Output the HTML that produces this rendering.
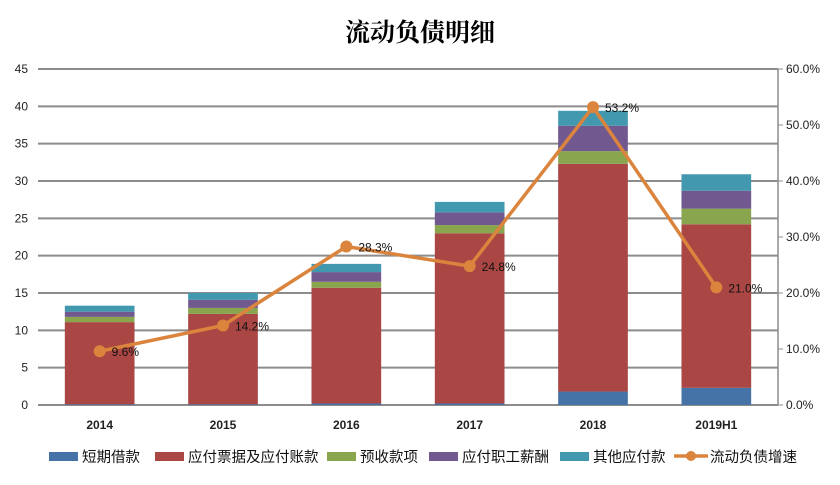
<!DOCTYPE html>
<html><head><meta charset="utf-8"><style>
body{margin:0;background:#fff}
svg text{font-family:"Liberation Sans","Noto Sans CJK SC",sans-serif}
</style></head><body>
<svg id="c" width="840" height="480" xmlns="http://www.w3.org/2000/svg">
<text x="420" y="41" text-anchor="middle" font-size="25" font-weight="bold" style="font-family:'Noto Serif CJK SC','Liberation Serif',serif">流动负债明细</text>
<g id="grid"></g><g id="bars"></g><g id="line"></g><g id="axes"></g><g id="legend"></g>
</svg>
<script>
const categories=["2014","2015","2016","2017","2018","2019H1"];
const shortLoans=[0.1,0.1,0.2,0.2,1.8,2.3];
const payables=[11.0,12.1,15.5,22.8,30.5,21.9];
const advances=[0.7,0.8,0.8,1.1,1.7,2.1];
const salaries=[0.7,1.1,1.3,1.7,3.4,2.4];
const otherPayables=[0.8,0.9,1.1,1.4,2.0,2.2];
const growth=[9.6,14.2,28.3,24.8,53.2,21.0];
const leftTicks=[0,5,10,15,20,25,30,35,40,45];
const rightTicks=["0.0%","10.0%","20.0%","30.0%","40.0%","50.0%","60.0%"];
const seriesNames=["短期借款","应付票据及应付账款","预收款项","应付职工薪酬","其他应付款","流动负债增速"];
const colors=["#4572A7","#AA4643","#89A54E","#71588F","#4198AF","#DB843D"];
const NS="http://www.w3.org/2000/svg";
const X0=38,X1=778,Y0=405,Y1=69;
const yL=v=>Y0-v/45*(Y0-Y1);
const yR=v=>Y0-v/60*(Y0-Y1);
const band=(X1-X0)/categories.length;
const xc=i=>X0+band*(i+0.5);
function mk(p,t,a){const e=document.createElementNS(NS,t);for(const k in a)e.setAttribute(k,a[k]);p.appendChild(e);return e;}
const G=document.getElementById('grid'),B=document.getElementById('bars'),L=document.getElementById('line'),A=document.getElementById('axes'),LG=document.getElementById('legend');
leftTicks.forEach(v=>{const l=mk(G,'line',{x1:X0,x2:X1,y1:yL(v),y2:yL(v),stroke:'#8c8c8c','stroke-width':2});


const t=mk(A,'text',{x:28,y:yL(v)+4,'text-anchor':'end','font-size':12,fill:'#222'});t.textContent=v;

});
rightTicks.forEach((s,i)=>{const t=mk(A,'text',{x:786,y:yR(i*10)+4,'font-size':12,fill:'#222'});t.textContent=s;


mk(A,'line',{x1:X1,x2:X1+5,y1:yR(i*10),y2:yR(i*10),stroke:'#8c8c8c'});});
const ra=mk(A,'line',{x1:X1,x2:X1,y1:Y1,y2:Y0,stroke:'#8c8c8c','stroke-width':1.5});


const series=[shortLoans,payables,advances,salaries,otherPayables];
categories.forEach((c,i)=>{let acc=0;const w=band*0.565;
series.forEach((s,k)=>{const y0=yL(acc);acc+=s[i];const y1=yL(acc);
const r=mk(B,'rect',{x:xc(i)-w/2,y:y1,width:w,height:y0-y1,fill:colors[k]});

});
const t=mk(A,'text',{x:xc(i),y:429,'text-anchor':'middle','font-size':12,'font-weight':'bold',fill:'#222'});t.textContent=c;

});
const pl=mk(L,'polyline',{points:growth.map((v,i)=>xc(i)+','+yR(v)).join(' '),fill:'none',stroke:colors[5],'stroke-width':3.5});


growth.forEach((v,i)=>{const p=mk(L,'circle',{cx:xc(i),cy:yR(v),r:6,fill:colors[5]});


const t=mk(L,'text',{x:xc(i)+12,y:yR(v)+5,'font-size':12,fill:'#111'});t.textContent=v.toFixed(1)+'%';

});
const lx=[49,155,327,429,560,674];
seriesNames.forEach((n,k)=>{const g=mk(LG,'g',{});


if(k<5)mk(g,'rect',{x:lx[k],y:452,width:29,height:9,fill:colors[k]});
else{mk(g,'line',{x1:lx[k],x2:lx[k]+34,y1:456,y2:456,stroke:colors[5],'stroke-width':3.5});mk(g,'circle',{cx:lx[k]+17,cy:456,r:5,fill:colors[5]});}
const t=mk(g,'text',{x:lx[k]+(k<5?33:36),y:462,'font-size':14.5,fill:'#111'});t.textContent=n;});
</script>
</body></html>
